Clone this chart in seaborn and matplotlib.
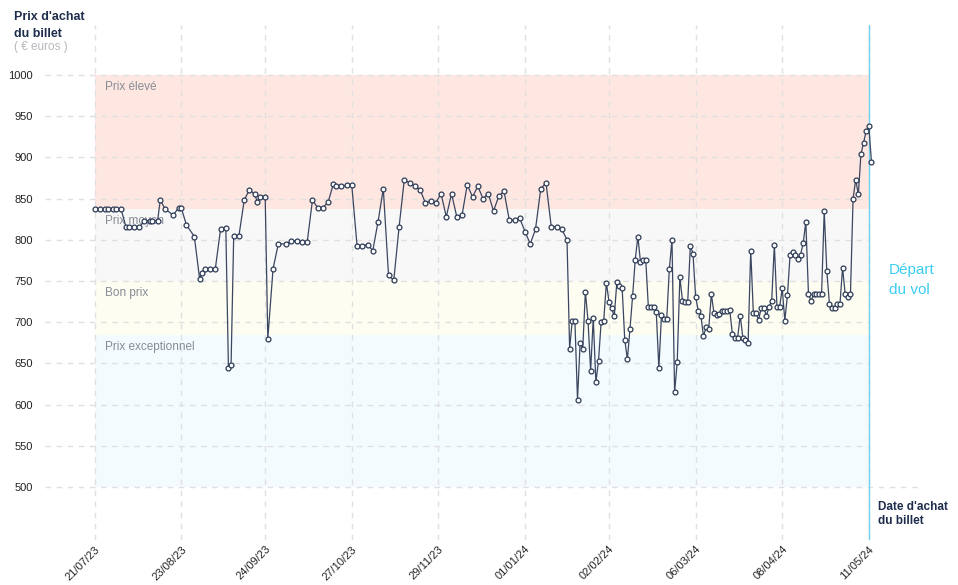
import pandas as pd
import matplotlib.pyplot as plt
import seaborn as sns

# --- data ---
start = "2023-07-21"
departure = "2024-05-11"

day_offsets = [0, 2, 4, 5, 7, 8, 10, 12, 13, 15, 17, 19, 21, 22, 24, 25, 27, 30, 32, 33,
               35, 38, 40, 41, 42, 44, 46, 48, 50, 51, 52, 53, 55, 57, 59, 61, 62, 63, 65, 66,
               68, 70, 73, 75, 77, 79, 81, 83, 85, 87, 89, 91, 92, 94, 96, 98, 100, 102, 104, 106,
               108, 110, 112, 114, 116, 118, 120, 122, 124, 126, 128, 130, 132, 134, 136, 138, 140, 142, 144, 146,
               148, 150, 152, 154, 156, 158, 160, 162, 164, 166, 168, 170, 172, 174, 176, 178,
               180, 181, 182, 183, 184, 185, 186, 187, 188, 189, 190, 191, 192, 193, 194, 195, 196, 197, 198, 199,
               200, 201, 202, 203, 204, 205, 206, 207, 208, 209, 210, 211, 212, 213, 214, 215, 216, 217, 218, 219,
               220, 221, 222, 223, 224, 225, 226, 227, 228, 229, 230, 231, 232, 233, 234, 235, 236, 237, 238, 239,
               240, 241, 242, 243, 244, 245, 246, 247, 248, 249, 250, 251, 252, 253, 254, 255, 256, 257, 258, 259,
               260, 261, 262, 263, 264, 265, 266, 267, 268, 269, 270, 271, 272, 273, 274, 275, 276, 277, 278, 279,
               280, 281, 282, 283, 284, 285, 286, 287, 288, 289, 290, 291, 292, 293, 294, 295, 296]

prices = [837, 837, 838, 838, 838, 838, 838, 815, 816, 816, 815, 823, 823, 823, 823, 848, 837, 830, 839, 839,
          818, 804, 753, 760, 765, 765, 765, 813, 814, 644, 648, 805, 805, 848, 861, 855, 846, 852, 852, 680,
          765, 795, 795, 798, 799, 797, 797, 848, 839, 839, 846, 868, 865, 865, 866, 866, 793, 793, 794, 787,
          822, 862, 757, 751, 815, 873, 869, 865, 861, 845, 847, 845, 856, 828, 856, 828, 830, 867, 852, 865,
          850, 856, 835, 853, 859, 824, 824, 826, 810, 795, 813, 862, 869, 816, 816, 813,
          800, 668, 702, 702, 606, 675, 668, 737, 702, 641, 705, 627, 653, 700, 702, 748, 725, 717, 707, 749,
          744, 742, 679, 655, 692, 732, 776, 804, 773, 775, 776, 718, 718, 718, 713, 644, 709, 704, 704, 765,
          800, 615, 652, 755, 726, 725, 725, 793, 783, 731, 714, 708, 683, 694, 692, 734, 711, 709, 710, 714,
          714, 714, 715, 686, 681, 681, 708, 681, 679, 675, 787, 711, 711, 703, 717, 717, 708, 719, 726, 794,
          719, 718, 741, 702, 733, 782, 785, 782, 777, 782, 796, 822, 734, 726, 734, 734, 734, 734, 835, 762,
          722, 717, 717, 722, 722, 766, 734, 731, 734, 850, 873, 855, 904, 918, 932, 938, 895]

band_names = ["Prix élevé", "Prix moyen", "Bon prix", "Prix exceptionnel"]
band_low = [838, 750, 685, 500]
band_high = [1000, 838, 750, 685]
band_colors = ["#fee7e1", "#f8f8f8", "#fdfdf2", "#f3fbfe"]

tick_dates = ["2023-07-21", "2023-08-23", "2023-09-24", "2023-10-27", "2023-11-29",
              "2024-01-01", "2024-02-02", "2024-03-06", "2024-04-08", "2024-05-11"]
y_ticks = [500, 550, 600, 650, 700, 750, 800, 850, 900, 950, 1000]

#%%
sns.set_style("white")
plt.rcParams["font.family"] = ["Liberation Sans", "DejaVu Sans"]

t0 = pd.Timestamp(start)
t_dep = pd.Timestamp(departure)
df = pd.DataFrame({"date": t0 + pd.to_timedelta(day_offsets, unit="D"), "prix": prices})

W, H = 958, 585
fig = plt.figure(figsize=(W / 100, H / 100), dpi=100)
ax = fig.add_axes([45 / W, (H - 540) / H, 875 / W, 515 / H])

xmin = t0 - pd.Timedelta(days=18.9)
xmax = t0 + pd.Timedelta(days=314.5)
ax.set_xlim(xmin, xmax)
ax.set_ylim(435.7, 1060.7)

# price bands
for name, lo, hi, col in zip(band_names, band_low, band_high, band_colors):
    ax.fill_between([t0, t_dep], lo, hi, color=col, lw=0, zorder=0)
    ax.text(t0 + pd.Timedelta(days=4), hi - 15, name, color="#868c96",
            fontsize=8.5, va="center", ha="left", zorder=2)

# dashed grid
grid_kw = dict(color="#e0e0e0", lw=1, linestyles=(0, (4, 4)), zorder=1)
for v in y_ticks:
    ax.hlines(v, xmin, xmax if v == 500 else t_dep, **grid_kw)
ax.vlines(pd.to_datetime(tick_dates), 435.7, 1060.7, **grid_kw)

ax.axvline(t_dep, color="#6fd2f0", lw=1, zorder=3)

sns.lineplot(data=df, x="date", y="prix", ax=ax, color="#3b4660", lw=0.9,
             marker="o", markersize=3.5, markerfacecolor="white",
             markeredgecolor="#2c3a55", markeredgewidth=0.9, zorder=4)

ax.set_xlabel("")
ax.set_ylabel("")
ax.set_yticks(y_ticks)
ax.set_yticklabels([str(v) for v in y_ticks], fontsize=8, color="#222222")
ax.set_xticks(pd.to_datetime(tick_dates))
ax.set_xticklabels([pd.Timestamp(d).strftime("%d/%m/%y") for d in tick_dates],
                   fontsize=8, color="#222222", rotation=45, ha="right",
                   rotation_mode="anchor")
ax.tick_params(axis="y", length=0, pad=8.5)
ax.tick_params(axis="x", length=0, pad=3)
for s in ax.spines.values():
    s.set_visible(False)
ax.set_facecolor("none")

# annotations
navy = "#1f2d4d"
fig.text(14 / W, 1 - 17 / H, "Prix d'achat", fontsize=9, fontweight="bold", color=navy, va="center")
fig.text(14 / W, 1 - 34 / H, "du billet", fontsize=9, fontweight="bold", color=navy, va="center")
fig.text(14 / W, 1 - 47 / H, "( € euros )", fontsize=8.5, color="#b5b8bd", va="center")
fig.text(889 / W, 1 - 270 / H, "Départ", fontsize=11, color="#3ccdf2", va="center")
fig.text(889 / W, 1 - 290 / H, "du vol", fontsize=11, color="#3ccdf2", va="center")
fig.text(878 / W, 1 - 507 / H, "Date d'achat", fontsize=8.5, fontweight="bold", color=navy, va="center")
fig.text(878 / W, 1 - 521 / H, "du billet", fontsize=8.5, fontweight="bold", color=navy, va="center")

fig.savefig("out.png", dpi=100)
